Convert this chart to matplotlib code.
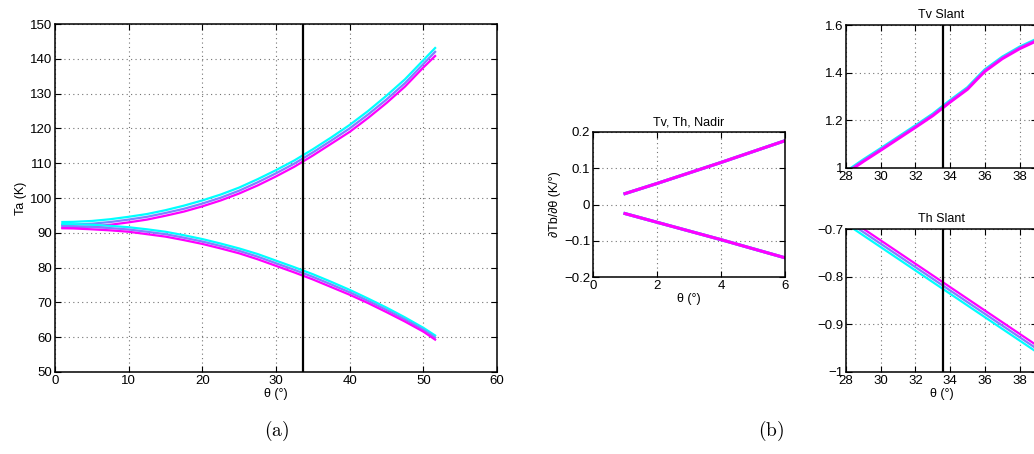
import matplotlib
matplotlib.use("Agg")
import matplotlib.pyplot as plt
from matplotlib.ticker import FuncFormatter

plt.rcParams['font.family'] = ['Liberation Sans', 'DejaVu Sans']
plt.rcParams['mathtext.fontset'] = 'cm'

# colours: cyan -> mid -> magenta
colors = ['#00ffff', '#8080ff', '#ff00ff']

# (a) antenna temperature vs incidence angle
theta = [1, 2.5, 5, 7.5, 10, 12.5, 15, 17.5, 20, 22.5, 25, 27.5, 30,
         32.5, 35, 37.5, 40, 42.5, 45, 47.5, 50, 51.6]
tv_cyan = [93.1, 93.15, 93.4, 93.9, 94.6, 95.4, 96.5, 97.8, 99.3, 101.0, 103.0,
           105.4, 108.0, 110.8, 114.0, 117.4, 121.0, 125.0, 129.4, 134.1, 139.6, 143.1]
tv_mid = [92.3, 92.35, 92.6, 93.1, 93.8, 94.6, 95.7, 96.9, 98.4, 100.1, 102.1,
          104.5, 107.1, 109.9, 113.1, 116.5, 120.0, 124.0, 128.3, 133.0, 138.5, 142.0]
tv_mag = [91.5, 91.55, 91.8, 92.3, 93.0, 93.8, 94.9, 96.1, 97.6, 99.3, 101.3,
          103.6, 106.2, 109.0, 112.2, 115.6, 119.0, 123.0, 127.3, 132.0, 137.5, 140.8]
th_cyan = [92.5, 92.45, 92.3, 92.0, 91.6, 91.0, 90.3, 89.3, 88.2, 86.9, 85.5,
           83.9, 82.0, 80.1, 78.1, 75.9, 73.6, 71.1, 68.5, 65.7, 62.7, 60.5]
th_mid = [91.9, 91.85, 91.65, 91.35, 90.95, 90.3, 89.6, 88.6, 87.5, 86.2, 84.8,
          83.15, 81.25, 79.35, 77.35, 75.15, 72.9, 70.45, 67.85, 65.1, 62.15, 59.9]
th_mag = [91.3, 91.25, 91.0, 90.7, 90.3, 89.6, 88.9, 87.9, 86.8, 85.5, 84.1,
          82.4, 80.5, 78.6, 76.6, 74.4, 72.2, 69.8, 67.2, 64.5, 61.6, 59.3]
theta_ref = 33.6

# (b) derivatives at nadir
nadir_x = [1, 2, 3, 4, 5, 6]
nadir_tv = [0.030, 0.058, 0.087, 0.116, 0.146, 0.176]
nadir_th = [-0.025, -0.049, -0.073, -0.097, -0.122, -0.147]

# (b) derivatives, slant
slant_x = [28.3, 29, 30, 31, 32, 33, 34, 35, 35.5, 36, 37, 38, 39]
slant_tv_cyan = [1.0, 1.035, 1.082, 1.130, 1.178, 1.227, 1.284, 1.338, 1.376, 1.413, 1.466, 1.508, 1.542]
slant_tv_mid = [0.996, 1.031, 1.078, 1.126, 1.174, 1.223, 1.280, 1.334, 1.372, 1.409, 1.462, 1.504, 1.538]
slant_tv_mag = [0.992, 1.027, 1.074, 1.122, 1.170, 1.219, 1.276, 1.330, 1.368, 1.405, 1.458, 1.500, 1.534]
slant_th_x = [28, 30, 32, 34, 36, 38, 40]
slant_th_cyan = [-0.689, -0.738, -0.787, -0.836, -0.885, -0.934, -0.983]
slant_th_mid = [-0.682, -0.731, -0.780, -0.829, -0.878, -0.927, -0.976]
slant_th_mag = [-0.675, -0.724, -0.773, -0.822, -0.871, -0.920, -0.969]

W, H = 1034, 454
fig = plt.figure(figsize=(W / 100, H / 100), dpi=100)


def px_axes(x0, y0, x1, y1):
    return fig.add_axes([x0 / W, 1 - y1 / H, (x1 - x0) / W, (y1 - y0) / H])


fmt = FuncFormatter(lambda v, p: ('%g' % round(v, 6)).replace('-', '\u2212'))


def style(ax):
    ax.grid(True, linestyle=(0, (1, 3)), color='0.45', linewidth=0.8)
    ax.tick_params(direction='in', top=True, right=True, labelsize=9.5,
                   length=4, width=0.8, pad=2)
    for s in ax.spines.values():
        s.set_linewidth(1.1)
    ax.yaxis.set_major_formatter(fmt)
    ax.xaxis.set_major_formatter(fmt)


lw = 1.6

ax1 = px_axes(55, 24, 497, 372)
for ys, c in zip([tv_cyan, tv_mid, tv_mag], colors):
    ax1.plot(theta, ys, color=c, lw=lw)
for ys, c in zip([th_cyan, th_mid, th_mag], colors):
    ax1.plot(theta, ys, color=c, lw=lw)
ax1.axvline(theta_ref, color='k', lw=1.6)
ax1.set_xlim(0, 60)
ax1.set_ylim(50, 150)
ax1.set_xticks(range(0, 61, 10))
ax1.set_yticks(range(50, 151, 10))
ax1.set_xlabel('\u03b8 (\u00b0)', fontsize=9, labelpad=1)
ax1.set_ylabel('Ta (K)', fontsize=9, labelpad=2)
style(ax1)

ax2 = px_axes(593, 132, 785, 277)
for c in colors:
    ax2.plot(nadir_x, nadir_tv, color=c, lw=lw + 0.6)
    ax2.plot(nadir_x, nadir_th, color=c, lw=lw + 0.6)
ax2.set_xlim(0, 6)
ax2.set_ylim(-0.2, 0.2)
ax2.set_xticks([0, 2, 4, 6])
ax2.set_yticks([-0.2, -0.1, 0, 0.1, 0.2])
ax2.set_title('Tv, Th, Nadir', fontsize=9, pad=5)
ax2.set_xlabel('\u03b8 (\u00b0)', fontsize=9, labelpad=1)
ax2.set_ylabel('\u2202Tb/\u2202\u03b8 (K/\u00b0)', fontsize=9, labelpad=2)
style(ax2)

ax3 = px_axes(846, 25, 1037, 168)
for ys, c in zip([slant_tv_cyan, slant_tv_mid, slant_tv_mag], colors):
    ax3.plot(slant_x, ys, color=c, lw=lw + 0.4)
ax3.axvline(theta_ref, color='k', lw=1.6)
ax3.set_xlim(28, 39)
ax3.set_ylim(1, 1.6)
ax3.set_xticks(range(28, 39, 2))
ax3.set_yticks([1, 1.2, 1.4, 1.6])
ax3.set_title('Tv Slant', fontsize=9, pad=5)
style(ax3)

ax4 = px_axes(846, 229, 1037, 372)
for ys, c in zip([slant_th_cyan, slant_th_mid, slant_th_mag], colors):
    ax4.plot(slant_th_x, ys, color=c, lw=lw)
ax4.axvline(theta_ref, color='k', lw=1.6)
ax4.set_xlim(28, 39)
ax4.set_ylim(-1, -0.7)
ax4.set_xticks(range(28, 39, 2))
ax4.set_yticks([-1, -0.9, -0.8, -0.7])
ax4.set_title('Th Slant', fontsize=9, pad=5)
ax4.set_xlabel('\u03b8 (\u00b0)', fontsize=9, labelpad=1)
style(ax4)

fig.text(277 / W, 1 - 431 / H, r'$\mathrm{(a)}$', fontsize=14, ha='center', va='center')
fig.text(771 / W, 1 - 431 / H, r'$\mathrm{(b)}$', fontsize=14, ha='center', va='center')

fig.savefig('out.png', dpi=100)
